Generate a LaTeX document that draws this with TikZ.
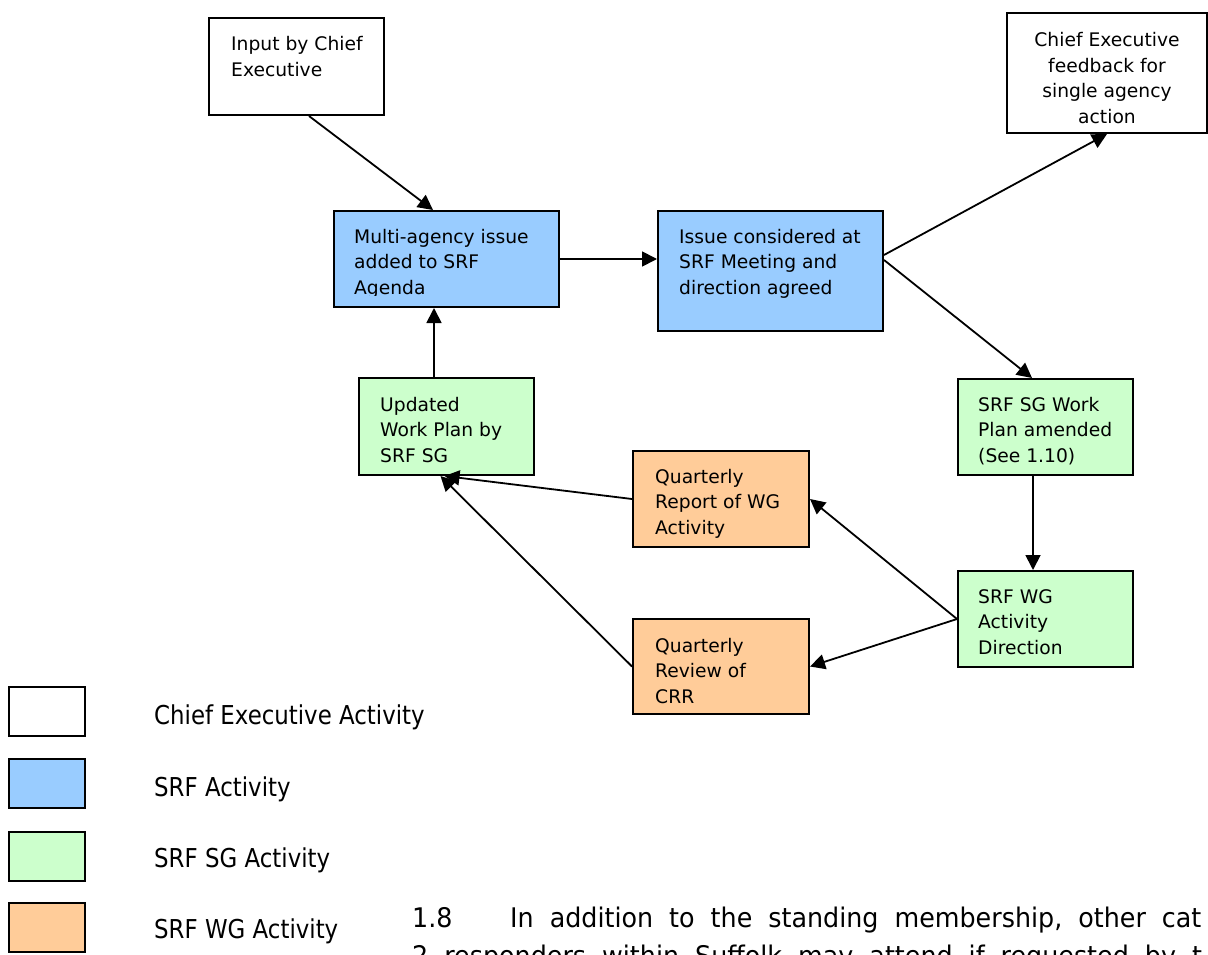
\documentclass[tikz,border=0pt]{standalone}
\usepackage{fontspec}
\setmainfont{DejaVu Sans}
\newfontfamily\legendfam[FakeStretch=0.88]{DejaVu Sans}
\newfontfamily\parafam[FakeStretch=0.94]{DejaVu Sans}
\usetikzlibrary{arrows.meta}

\definecolor{srfblue}{HTML}{99CCFF}
\definecolor{sggreen}{HTML}{CCFFCC}
\definecolor{wgorange}{HTML}{FFCC99}

% multi-line labels are placed by the baseline of their last line
\tikzset{
  box/.style={draw=black, line width=2pt, inner sep=0pt, fill=white},
  cebox/.style={box},
  srfbox/.style={box, fill=srfblue},
  sgbox/.style={box, fill=sggreen},
  wgbox/.style={box, fill=wgorange},
  btxt/.style={inner sep=0pt, align=left, anchor=base west,
    font=\fontsize{18.7}{25.5}\selectfont},
  flow/.style={line width=1.8pt, -{Triangle[length=15pt,width=15pt]}},
  legbox/.style={box, minimum width=76pt, minimum height=49pt},
  legtxt/.style={inner sep=0pt, anchor=base west,
    font=\legendfam\fontsize{26}{30}\selectfont},
  para/.style={inner sep=0pt, anchor=base west,
    font=\parafam\fontsize{27}{38}\selectfont},
}

\begin{document}
\begin{tikzpicture}[x=1pt, y=-1pt]
\useasboundingbox (0,0) rectangle (1208,955);

% process boxes
\node[cebox, minimum width=175pt, minimum height=97pt] (input) at (296.5,66.5) {};
\node[btxt] (inputT) at (231,76.5) {Input by Chief\\Executive};

\node[cebox, minimum width=200pt, minimum height=120pt] (feed) at (1107,73) {};
\node[btxt, align=center, anchor=base] (feedT) at (1107,123.5)
  {Chief Executive\\feedback for\\single agency\\action};

\node[srfbox, minimum width=225pt, minimum height=96pt] (multi) at (446.5,259) {};
\begin{scope}
  \clip (336,213) rectangle (557,295);
  \node[btxt] (multiT) at (354,294) {Multi-agency issue\\added to SRF\\Agenda};
\end{scope}

\node[srfbox, minimum width=225pt, minimum height=120pt] (issue) at (770.5,271) {};
\node[btxt] (issueT) at (679,294) {Issue considered at\\SRF Meeting and\\direction agreed};

\node[sgbox, minimum width=175pt, minimum height=97pt] (updated) at (446.5,426.5) {};
\node[btxt] (updatedT) at (380,462) {Updated\\Work Plan by\\SRF SG};

\node[wgbox, minimum width=176pt, minimum height=96pt] (qreport) at (721,499) {};
\node[btxt] (qreportT) at (655,534) {Quarterly\\Report of WG\\Activity};

\node[wgbox, minimum width=176pt, minimum height=95pt] (qreview) at (721,666.5) {};
\node[btxt] (qreviewT) at (655,703) {Quarterly\\Review of\\CRR};

\node[sgbox, minimum width=175pt, minimum height=96pt] (sg) at (1045.5,427) {};
\node[btxt] (sgT) at (978,462) {SRF SG Work\\Plan amended\\(See 1.10)};

\node[sgbox, minimum width=175pt, minimum height=96pt] (wg) at (1045.5,619) {};
\node[btxt] (wgT) at (978,654) {SRF WG\\Activity\\Direction};

% connectors
\draw[flow] ([xshift=12.5pt]input.south) -- ([xshift=-13.5pt]multi.north);
\draw[flow] (multi.east) -- ([yshift=12pt]issue.west);
\draw[flow] ([yshift=16pt]issue.east) -- (feed.south);
\draw[flow] ([yshift=11pt]issue.east) -- ([xshift=-13.5pt]sg.north);
\draw[flow] ([xshift=-12.5pt]sg.south) -- ([xshift=-12.5pt]wg.north);
\draw[flow] (wg.west) -- (qreport.east);
\draw[flow] (wg.west) -- (qreview.east);
\draw[flow] (qreport.west) -- ([xshift=-2pt]updated.south);
\draw[flow] (qreview.west) -- ([xshift=-6pt]updated.south);
\draw[flow] ([xshift=-12.5pt]updated.north) -- ([xshift=-12.5pt]multi.south);

% legend
\node[legbox] (legCE) at (47,711.5) {};
\node[legbox, fill=srfblue] (legSRF) at (47,783.5) {};
\node[legbox, fill=sggreen] (legSG) at (47,856) {};
\node[legbox, fill=wgorange] (legWG) at (47,927.5) {};
\node[legtxt] (legCEt) at (154,724) {Chief Executive Activity};
\node[legtxt] (legSRFt) at (154,796) {SRF Activity};
\node[legtxt] (legSGt) at (154,867) {SRF SG Activity};
\node[legtxt] (legWGt) at (154,938) {SRF WG Activity};

% running paragraph below the chart
\begin{scope}
  \clip (0,0) rectangle (1208,955);
  \node[para] (paraNum) at (412,927) {1.8};
  \node[para] (paraA) at (510,927)
    {\spaceskip=16pt\relax In addition to the standing membership, other cat};
  \node[para] (paraB) at (412,965)
    {\spaceskip=16pt\relax 2 responders within Suffolk may attend if requested by t};
\end{scope}
\end{tikzpicture}
\end{document}
